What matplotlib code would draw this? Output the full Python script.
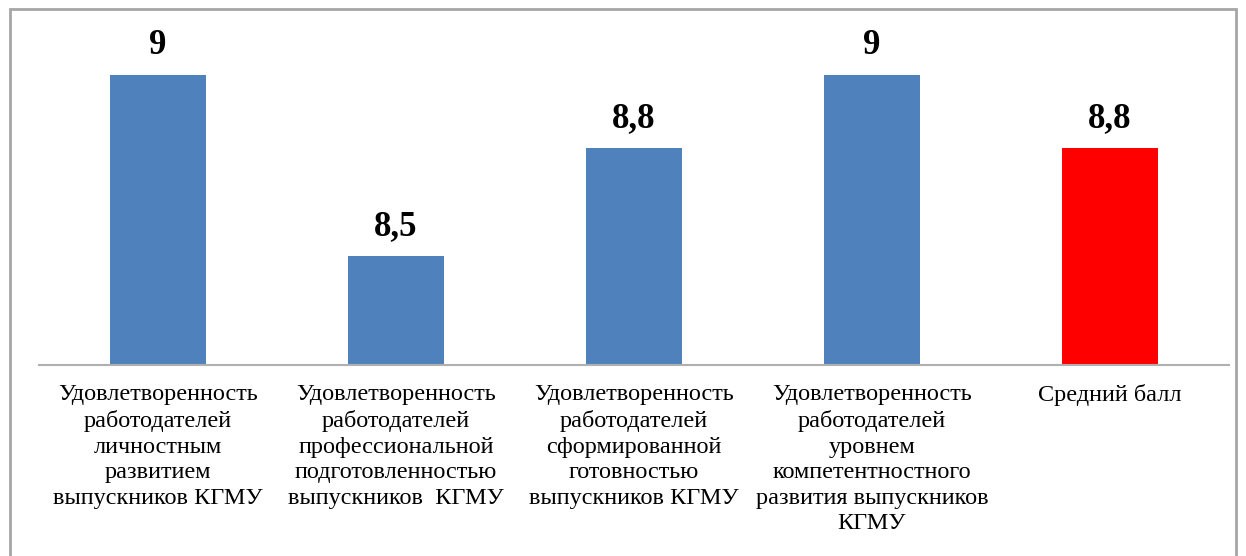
import matplotlib.pyplot as plt
from matplotlib.patches import Rectangle

categories = [
    "Удовлетворенность\nработодателей\nличностным\nразвитием\nвыпускников КГМУ",
    "Удовлетворенность\nработодателей\nпрофессиональной\nподготовленностью\nвыпускников  КГМУ",
    "Удовлетворенность\nработодателей\nсформированной\nготовностью\nвыпускников КГМУ",
    "Удовлетворенность\nработодателей\nуровнем\nкомпетентностного\nразвития выпускников\nКГМУ",
    "Средний балл",
]
values = [9, 8.5, 8.8, 9, 8.8]
value_labels = ["9", "8,5", "8,8", "9", "8,8"]
colors = ["#4f81bd", "#4f81bd", "#4f81bd", "#4f81bd", "#ff0000"]

plt.rcParams['font.family'] = ['Liberation Serif', 'DejaVu Serif']

W, H = 1246, 556
fig = plt.figure(figsize=(W / 100, H / 100), dpi=100)

# axes placed in pixel terms: baseline at y=365, 9 -> y=75
left, right = 39, 1229
bottom_px, top_px = 365, 39
ax = fig.add_axes([left / W, 1 - bottom_px / H, (right - left) / W, (bottom_px - top_px) / H])

x = range(len(values))
ax.bar(x, [v - 8.2 for v in values], bottom=8.2, width=0.4, color=colors)
ax.set_xlim(-0.5, len(values) - 0.5)
ax.set_ylim(8.2, 9.1)

for xi, v, lab in zip(x, values, value_labels):
    ax.annotate(lab, (xi, v), xytext=(0, 21), textcoords="offset pixels",
                ha="center", va="baseline", fontsize=25, fontweight="bold")

for s in ["top", "right", "left"]:
    ax.spines[s].set_visible(False)
ax.spines["bottom"].set_color("#b0b0b0")
ax.spines["bottom"].set_linewidth(1.5)
ax.set_yticks([])
ax.set_xticks(list(x))
ax.set_xticklabels(categories, fontsize=17.5, linespacing=1.28, va="top", ha="center")
ax.tick_params(axis="x", length=0, pad=14)

# outer chart border
fig.patches.append(Rectangle((10 / W, -0.05), (1236 - 10) / W, 1.05 - 9 / H,
                             transform=fig.transFigure, fill=False,
                             edgecolor="#a6a6a6", linewidth=2))

fig.savefig("out.png", dpi=100)
